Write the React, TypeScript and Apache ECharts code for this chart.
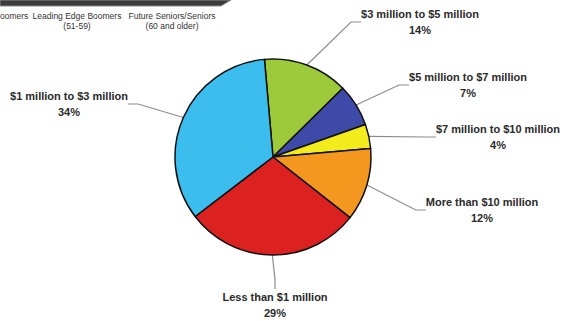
import React, { useEffect, useRef } from "react";
import * as echarts from "echarts";

const categories = [
  "$3 million to $5 million",
  "$5 million to $7 million",
  "$7 million to $10 million",
  "More than $10 million",
  "Less than $1 million",
  "$1 million to $3 million",
];
const values = [14, 7, 4, 12, 29, 34];
const colors = ["#9dca3a", "#3d4aa7", "#f2ec1c", "#f4971f", "#dc2121", "#3bbdee"];
// label centre positions (layout only)
const labelPos: [number, number][] = [
  [420, 22],
  [468, 85],
  [498, 137],
  [482, 210],
  [275, 305],
  [69, 104],
];
const headerTexts = [
  { t: "oomers", x: 0, align: "left" },
  { t: "Leading Edge Boomers\n(51-59)", x: 77, align: "center" },
  { t: "Future Seniors/Seniors\n(60 and older)", x: 172, align: "center" },
];

export default function App() {
  const ref = useRef<HTMLDivElement>(null);
  useEffect(() => {
    const chart = echarts.init(ref.current!, null, { renderer: "svg" });
    chart.setOption({
      animation: false,
      backgroundColor: "#ffffff",
      graphic: [
        {
          type: "polygon",
          shape: { points: [[0, 0], [231, 0], [221, 6], [0, 6]] },
          style: { fill: "#3c3c3c", stroke: "#8a8a8a", lineWidth: 1 },
        },
        ...headerTexts.map((h) => ({
          type: "text",
          x: h.x,
          y: 11,
          style: {
            text: h.t,
            fill: "#333",
            font: "8.5px 'Liberation Sans', Arial, sans-serif",
            align: h.align,
            verticalAlign: "top",
            lineHeight: 10,
          },
        })),
      ],
      series: [
        {
          type: "pie",
          center: [273, 157],
          radius: 98,
          startAngle: 95,
          clockwise: true,
          data: categories.map((c, i) => ({
            name: c,
            value: values[i],
            itemStyle: { color: colors[i] },
          })),
          itemStyle: { borderColor: "#111", borderWidth: 1.5 },
          label: {
            show: true,
            position: "outside",
            formatter: "{b}\n{c}%",
            color: "#2b2b2b",
            fontFamily: "'Liberation Sans', Arial, sans-serif",
            fontWeight: "bold",
            fontSize: 11,
            lineHeight: 16,
            align: "center",
          },
          labelLine: {
            show: true,
            length: 15,
            length2: 10,
            lineStyle: { color: "#8c8c8c", width: 1.2 },
          },
          labelLayout: (p: any) => {
            const pos = labelPos[p.dataIndex];
            return {
              x: pos[0],
              y: pos[1],
              align: "center",
              verticalAlign: "middle",
            };
          },
        },
      ],
    });
    return () => chart.dispose();
  }, []);
  return (
    <div
      ref={ref}
      style={{ position: "fixed", left: 0, top: 0, width: 569, height: 321 }}
    />
  );
}
